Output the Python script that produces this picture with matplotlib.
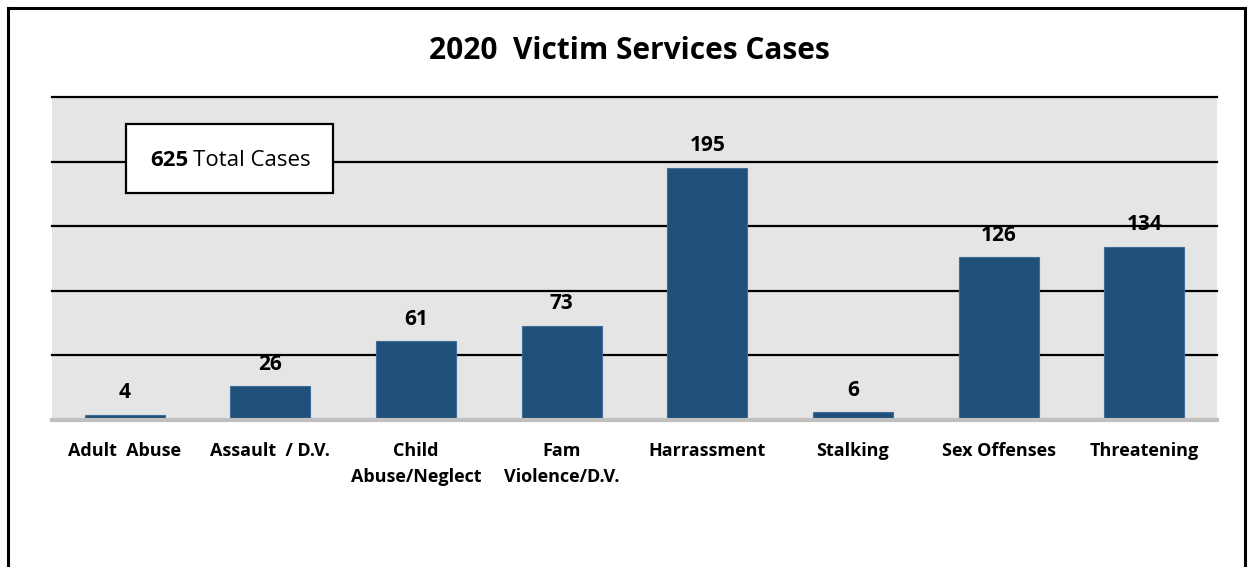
import matplotlib
matplotlib.use("Agg")
import matplotlib.pyplot as plt
from matplotlib.lines import Line2D
from matplotlib.patches import Rectangle

categories = ["Adult  Abuse", "Assault  / D.V.", "Child\nAbuse/Neglect", "Fam\nViolence/D.V.",
              "Harrassment", "Stalking", "Sex Offenses", "Threatening"]
cases = [4, 26, 61, 73, 195, 6, 126, 134]
grid_values = [50, 100, 150, 200, 250]
total_cases = 625

plt.rcParams["font.family"] = ["Open Sans", "DejaVu Sans"]

W, H = 1250, 567
fig = plt.figure(figsize=(12.5, 5.67), dpi=100)
ax = fig.add_axes([52 / W, 1 - 420 / H, (1217 - 52) / W, (420 - 97) / H])
ax.set_facecolor("#e5e5e5")

x = list(range(len(categories)))
for g in grid_values:
    ax.axhline(g, color="black", lw=1.6, zorder=1, clip_on=False)
ax.axhline(0, color="#c0c0c0", lw=3, zorder=3, clip_on=False)

bars = ax.bar(x, cases, width=0.55, color="#204f79", edgecolor="#3d6d98",
              linewidth=0.8, zorder=2)
for xi, v in zip(x, cases):
    ax.annotate(str(v), xy=(xi, v), xytext=(0, 12), textcoords="offset points",
                ha="center", va="baseline", fontsize=15, fontweight="bold")

ax.set_xlim(-0.5, len(categories) - 0.5)
ax.set_ylim(0, 250)
ax.set_yticks([])
ax.set_xticks(x)
ax.set_xticklabels(categories, fontsize=13, fontweight="bold", linespacing=1.55)
ax.tick_params(axis="x", length=0, pad=16)
for s in ax.spines.values():
    s.set_visible(False)

fig.text(629 / W, 1 - 51 / H, "2020  Victim Services Cases", ha="center", va="center",
         fontsize=21.5, fontweight="bold")

# total cases box
fig.add_artist(Rectangle((126 / W, 1 - 193 / H), (333 - 126) / W, (193 - 124) / H,
                         transform=fig.transFigure, facecolor="white",
                         edgecolor="black", lw=1.6, zorder=5))
t1 = fig.text(150 / W, 1 - 161 / H, f"{total_cases}", ha="left", va="center",
              fontsize=16, fontweight="bold", zorder=6)
fig.canvas.draw()
bb = t1.get_window_extent()
fig.text(bb.x1 / W + 5 / W, 1 - 161 / H, "Total Cases", ha="left", va="center",
         fontsize=16, zorder=6)

# outer frame
for xs, ys in [((8, 8), (8, H)), ((8, 1245), (8, 8)), ((1245, 1245), (8, H))]:
    fig.add_artist(Line2D([a / W for a in xs], [1 - b / H for b in ys],
                          transform=fig.transFigure, color="black", lw=2.2))

fig.savefig("out.png", dpi=100)
